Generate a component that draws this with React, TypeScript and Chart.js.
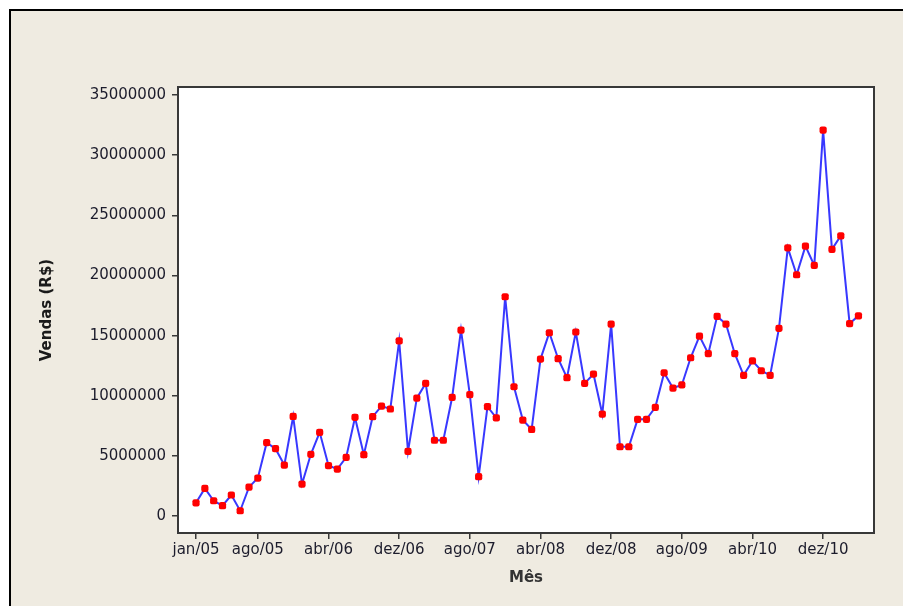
import React, { useEffect, useRef } from "react";
import { Chart, registerables } from "chart.js";
Chart.register(...registerables);

const months: string[] = [
  "jan/05","fev/05","mar/05","abr/05","mai/05","jun/05","jul/05","ago/05","set/05","out/05","nov/05","dez/05",
  "jan/06","fev/06","mar/06","abr/06","mai/06","jun/06","jul/06","ago/06","set/06","out/06","nov/06","dez/06",
  "jan/07","fev/07","mar/07","abr/07","mai/07","jun/07","jul/07","ago/07","set/07","out/07","nov/07","dez/07",
  "jan/08","fev/08","mar/08","abr/08","mai/08","jun/08","jul/08","ago/08","set/08","out/08","nov/08","dez/08",
  "jan/09","fev/09","mar/09","abr/09","mai/09","jun/09","jul/09","ago/09","set/09","out/09","nov/09","dez/09",
  "jan/10","fev/10","mar/10","abr/10","mai/10","jun/10","jul/10","ago/10","set/10","out/10","nov/10","dez/10",
  "jan/11","fev/11","mar/11","abr/11",
];

const vendas: number[] = [
  1100000, 2300000, 1270000, 860000, 1750000, 440000, 2400000, 3160000, 6100000, 5600000, 4240000, 8280000,
  2660000, 5130000, 6960000, 4200000, 3900000, 4880000, 8200000, 5100000, 8260000, 9140000, 8900000, 14570000,
  5380000, 9800000, 11030000, 6300000, 6300000, 9870000, 15460000, 10100000, 3270000, 9090000, 8170000, 18230000,
  10750000, 7980000, 7200000, 13050000, 15240000, 13080000, 11500000, 15300000, 11030000, 11800000, 8480000, 15960000,
  5760000, 5760000, 8040000, 8040000, 9040000, 11900000, 10640000, 10900000, 13160000, 14960000, 13500000, 16600000,
  15960000, 13500000, 11700000, 12900000, 12080000, 11700000, 15600000, 22300000, 20060000, 22440000, 20840000, 32090000,
  22170000, 23300000, 16000000, 16650000,
];

const xTickLabels: string[] = ["jan/05", "ago/05", "abr/06", "dez/06", "ago/07", "abr/08", "dez/08", "ago/09", "abr/10", "dez/10"];
const yTicks: number[] = [0, 5000000, 10000000, 15000000, 20000000, 25000000, 30000000, 35000000];

const BEIGE = "#EFEBE1";
const TEXT = "#1c1c2c";
const FONT = "'DejaVu Sans', Verdana, sans-serif";

const framePlugin = {
  id: "frame",
  beforeDraw(chart: any) {
    const { ctx, width, height, chartArea } = chart;
    ctx.save();
    ctx.fillStyle = "#ffffff";
    ctx.fillRect(0, 0, width, height);
    ctx.fillStyle = BEIGE;
    ctx.fillRect(11, 11, width - 11, height - 11);
    ctx.strokeStyle = "#000000";
    ctx.lineWidth = 2;
    ctx.beginPath();
    ctx.moveTo(10, height);
    ctx.lineTo(10, 10);
    ctx.lineTo(width, 10);
    ctx.stroke();
    ctx.fillStyle = "#ffffff";
    ctx.fillRect(chartArea.left, chartArea.top, chartArea.right - chartArea.left, chartArea.bottom - chartArea.top);
    ctx.restore();
  },
  afterDraw(chart: any) {
    const { ctx, chartArea } = chart;
    ctx.save();
    ctx.strokeStyle = "#383838";
    ctx.lineWidth = 2;
    ctx.strokeRect(chartArea.left, chartArea.top, chartArea.right - chartArea.left, chartArea.bottom - chartArea.top);
    ctx.restore();
  },
};

export default function App() {
  const ref = useRef<HTMLCanvasElement | null>(null);
  useEffect(() => {
    if (!ref.current) return;
    const chart = new Chart(ref.current, {
      type: "line",
      data: {
        datasets: [
          {
            label: "Vendas (R$)",
            data: vendas.map((v, i) => ({ x: i, y: v })),
            borderColor: "#3838FF",
            borderWidth: 2,
            pointBackgroundColor: "#FF0000",
            pointBorderColor: "#FF0000",
            pointStyle: "rectRounded",
            pointRadius: 4.2,
            pointBorderWidth: 0,
            tension: 0,
          },
        ],
      },
      options: {
        animation: false,
        responsive: true,
        maintainAspectRatio: false,
        layout: { padding: { left: 0, top: 87, right: 29, bottom: 0 } },
        plugins: { legend: { display: false }, tooltip: { enabled: false } },
        scales: {
          x: {
            type: "linear",
            min: -2.04,
            max: 76.76,
            afterBuildTicks: (scale: any) => {
              scale.ticks = xTickLabels.map((l) => ({ value: months.indexOf(l) }));
            },
            afterFit: (scale: any) => {
              scale.height = 73;
            },
            ticks: {
              autoSkip: false,
              maxRotation: 0,
              padding: 2,
              color: TEXT,
              font: { family: FONT, size: 15 },
              callback: (v: any) => months[Math.round(Number(v))] ?? "",
            },
            grid: { drawOnChartArea: false, drawTicks: true, tickLength: 6, color: "#383838", lineWidth: 1.5 },
            border: { display: false },
            title: {
              display: true,
              text: "Mês",
              color: "#333333",
              font: { family: FONT, size: 15, weight: "bold" },
              padding: { top: 0, bottom: 19 },
            },
          },
          y: {
            min: -1410000,
            max: 35670000,
            afterBuildTicks: (scale: any) => {
              scale.ticks = yTicks.map((v) => ({ value: v }));
            },
            afterFit: (scale: any) => {
              scale.width = 178;
            },
            ticks: {
              padding: 6,
              color: TEXT,
              font: { family: FONT, size: 15 },
              callback: (v: any) => String(v),
            },
            grid: { drawOnChartArea: false, drawTicks: true, tickLength: 6, color: "#383838", lineWidth: 1.5 },
            border: { display: false },
            title: {
              display: true,
              text: "Vendas (R$)",
              color: "#1a1a1a",
              font: { family: FONT, size: 15, weight: "bold" },
              padding: { top: 38, bottom: 0 },
            },
          },
        },
      },
      plugins: [framePlugin],
    });
    return () => chart.destroy();
  }, []);
  return (
    <div style={{ position: "fixed", left: 0, top: 0, width: 903, height: 606 }}>
      <canvas ref={ref} style={{ width: "903px", height: "606px" }} />
    </div>
  );
}
